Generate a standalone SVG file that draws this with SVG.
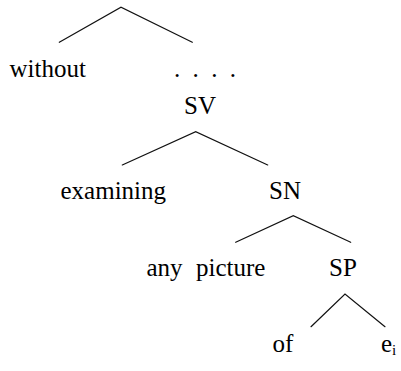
<svg xmlns="http://www.w3.org/2000/svg" width="401" height="371" viewBox="0 0 401 371">
  <style>
    .edge { stroke: #111; stroke-width: 1.2; fill: none; stroke-linecap: round; }
    .lbl { font-size: 25px; fill: #000; }
    .sub { font-size: 15px; }
  </style>
  <rect width="401" height="371" fill="#fff"/>

  <!-- branches of the tree -->
  <g id="connectors">
    <polyline class="edge" points="59.3,42.3 121,7.3 192.3,42.3"/>
    <polyline class="edge" points="122.3,165 195.7,131.7 267.7,165"/>
    <polyline class="edge" points="235.7,242.3 293.3,215.7 350.7,242.3"/>
    <polyline class="edge" points="311,326.7 345,294 385,326.7"/>
  </g>

  <!-- node labels -->
  <g id="labels" font-family="Liberation Serif, serif">
    <g id="without"><text class="lbl" x="9.5" y="77">without</text></g>
    <g id="ellipsis"><text class="lbl" x="174" y="77" textLength="62" lengthAdjust="spacing" xml:space="preserve">. . . .</text></g>
    <g id="SV"><text class="lbl" x="184" y="114">SV</text></g>
    <g id="examining"><text class="lbl" x="60.5" y="199">examining</text></g>
    <g id="SN"><text class="lbl" x="269" y="199">SN</text></g>
    <g id="any"><text class="lbl" x="146.5" y="276">any</text></g>
    <g id="picture"><text class="lbl" x="196" y="276">picture</text></g>
    <g id="SP"><text class="lbl" x="329" y="276">SP</text></g>
    <g id="of"><text class="lbl" x="272.5" y="352">of</text></g>
    <g id="ei"><text class="lbl" x="381" y="352">e<tspan class="sub" dy="3">i</tspan></text></g>
  </g>
</svg>
